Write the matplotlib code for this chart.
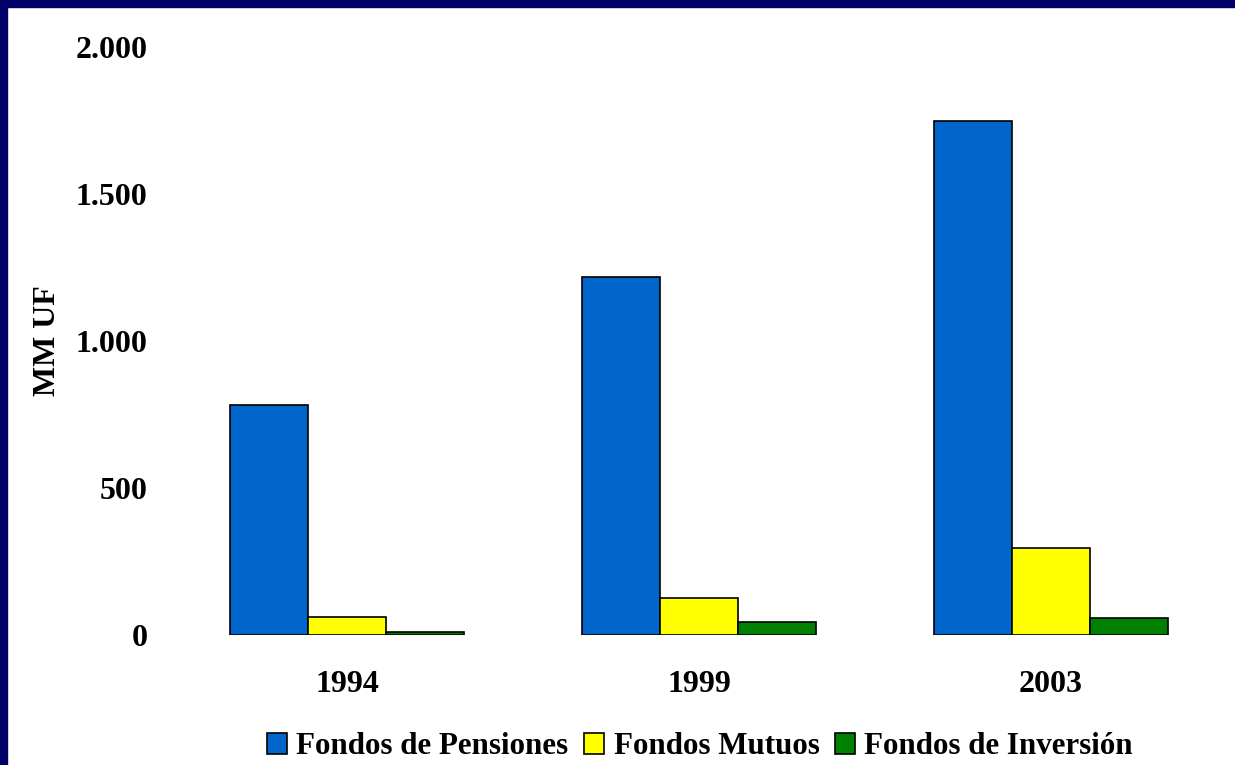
import matplotlib
matplotlib.use("Agg")
import matplotlib.pyplot as plt
import numpy as np
from matplotlib.patches import Rectangle

years = ["1994", "1999", "2003"]
series = ["Fondos de Pensiones", "Fondos Mutuos", "Fondos de Inversión"]
pensiones = [782, 1218, 1748]
mutuos = [61, 126, 296]
inversion = [10, 44, 58]
yticks = [0, 500, 1000, 1500, 2000]
ytick_labels = ["0", "500", "1.000", "1.500", "2.000"]

COLORS = ["#0066CC", "#FFFF00", "#008000"]
NAVY = "#000066"
FONT = {"family": "Liberation Serif", "weight": "bold"}

W, H = 1235, 765
fig = plt.figure(figsize=(W / 100, H / 100), dpi=100)
fig.patch.set_facecolor("white")

# navy frame strips on the left and top edges
fig.patches.append(Rectangle((0, 0), 7 / W, 1, transform=fig.transFigure,
                             color=NAVY, zorder=0))
fig.patches.append(Rectangle((0, 1 - 7 / H), 1, 7 / H, transform=fig.transFigure,
                             color=NAVY, zorder=0))

ax = fig.add_axes([171 / W, 1 - 635 / H, 1056 / W, (635 - 47) / H])
x = np.arange(len(years))
bw = 78 / 352
for i, (vals, name) in enumerate(zip([pensiones, mutuos, inversion], series)):
    ax.bar(x + (i - 1) * bw, vals, width=bw, color=COLORS[i],
           edgecolor="black", linewidth=1.2, label=name)

ax.set_xlim(-0.5, 2.5)
ax.set_ylim(0, 2000)
ax.set_yticks(yticks)
ax.set_yticklabels(ytick_labels, fontsize=23, **FONT)
ax.set_xticks(x)
ax.set_xticklabels(years, fontsize=23, **FONT)
ax.tick_params(length=0)
ax.tick_params(axis="y", pad=17)
ax.tick_params(axis="x", pad=25)
for s in ax.spines.values():
    s.set_visible(False)
ax.set_ylabel("MM UF", fontsize=23, **FONT)
ax.yaxis.set_label_coords((62 - 171) / 1056, 0.5)

fig.legend(loc="center", bbox_to_anchor=(700 / W, 1 - 747 / H), ncol=3,
           frameon=False, handlelength=0.65, handleheight=0.65, handletextpad=0.3,
           columnspacing=0.5, prop={"family": "Liberation Serif", "weight": "bold", "size": 22.3})

fig.savefig("out.png", dpi=100)
